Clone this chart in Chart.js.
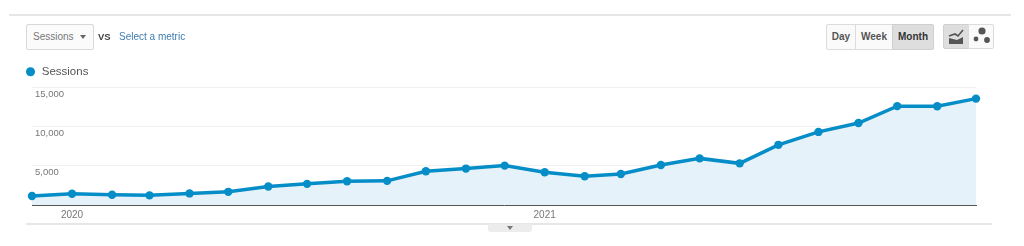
<!DOCTYPE html>
<html>
<head>
<meta charset="utf-8">
<style>
  html, body { margin: 0; padding: 0; background: #fff; width: 1024px; height: 246px; overflow: hidden; }
  body { position: relative; font-family: "Liberation Sans", Arial, sans-serif; }
  canvas { position: absolute; left: 0; top: 0; }
  .abs { position: absolute; box-sizing: border-box; }
  .rule { background: #e6e6e6; height: 2px; }
  .btn { border: 1px solid #dcdcdc; background: #fafafa; color: #555; font-size: 10px; font-weight: bold; text-align: center; line-height: 24px; height: 26px; top: 24px; }
  .on { background: #dedede; color: #333; border-color: #cfcfcf; }
</style>
</head>
<body>
<canvas id="grafico" width="1024" height="246"></canvas>

<div class="abs rule" style="left:9px;top:14px;width:1002px"></div>
<div class="abs rule" style="left:26px;top:223px;width:966px"></div>
<div class="abs" style="left:488px;top:224px;width:44px;height:8px;background:#ececec;border-radius:0 0 3px 3px"></div>
<div class="abs" style="left:507px;top:226px;width:0;height:0;border:3.5px solid transparent;border-top:4px solid #777"></div>

<div class="abs" style="left:26px;top:24px;width:68px;height:26px;border:1px solid #d8d8d8;border-radius:2px;background:#fbfbfb;color:#777;font-size:10px;line-height:24px;padding-left:6px">Sessions</div>
<div class="abs" style="left:80px;top:35px;width:0;height:0;border:3.5px solid transparent;border-top:4px solid #666"></div>
<div class="abs" style="left:98px;top:31px;font-size:9.5px;font-weight:bold;color:#444">VS</div>
<div class="abs" style="left:119px;top:31px;font-size:10px;color:#3f7cb0">Select a metric</div>

<div class="abs btn" style="left:826px;width:30px;border-radius:2px 0 0 2px">Day</div>
<div class="abs btn" style="left:855px;width:38px">Week</div>
<div class="abs btn on" style="left:892px;width:42px;border-radius:0 2px 2px 0">Month</div>
<div class="abs btn on" style="left:943px;width:26px;height:25px;border-radius:2px 0 0 2px"></div>
<div class="abs btn" style="left:968px;width:26px;height:25px;border-radius:0 2px 2px 0"></div>
<svg class="abs" style="left:943px;top:24px" width="52" height="25">
  <path d="M6 20 L20 20 L20 13 L14 16 L6 14 Z" fill="#555"/>
  <path d="M6 12 L12 10 L15 12 L20 6" stroke="#555" stroke-width="1.6" fill="none"/>
  <circle cx="39" cy="7" r="3.6" fill="#555"/>
  <circle cx="33" cy="15" r="2.4" fill="#555"/>
  <circle cx="44" cy="16" r="2.9" fill="#555"/>
</svg>

<script src="https://cdn.jsdelivr.net/npm/chart.js@4"></script>
<script>
const meses = ['2019-12-01','2020-01-01','2020-02-01','2020-03-01','2020-04-01','2020-05-01','2020-06-01','2020-07-01','2020-08-01','2020-09-01','2020-10-01','2020-11-01','2020-12-01','2021-01-01','2021-02-01','2021-03-01','2021-04-01','2021-05-01','2021-06-01','2021-07-01','2021-08-01','2021-09-01','2021-10-01','2021-11-01','2021-12-01'];
const sesiones = [1140,1430,1300,1230,1480,1680,2370,2700,3040,3080,4300,4650,5030,4180,3670,3960,5100,5950,5320,7680,9330,10470,12620,12600,13580];
const anios = ['2020-01-01','2021-01-01'];
const etiquetasAnio = ['2020','2021'];
const ticksY = [0,5000,10000,15000];

const aMs = d => Date.parse(d);

new Chart(document.getElementById('grafico').getContext('2d'), {
  type: 'line',
  data: {
    datasets: [{
      label: 'Sessions',
      data: meses.map((m, i) => ({ x: aMs(m), y: sesiones[i] })),
      borderColor: '#058dc7',
      backgroundColor: '#e6f2fa',
      pointBackgroundColor: '#058dc7',
      pointBorderColor: '#058dc7',
      borderWidth: 3.5,
      pointRadius: 4.2,
      pointBorderWidth: 0,
      fill: 'origin',
      tension: 0,
      clip: false
    }]
  },
  options: {
    responsive: false,
    animation: false,
    layout: { padding: { left: 25, right: 48, top: 66, bottom: 21 } },
    plugins: {
      tooltip: { enabled: false },
      legend: {
        position: 'top',
        align: 'start',
        onClick: null,
        labels: {
          usePointStyle: true,
          pointStyle: 'circle',
          boxWidth: 11,
          boxHeight: 6.4, // el radio del punto sale de boxHeight
          padding: 0,
          color: '#555',
          font: { family: 'Liberation Sans', size: 11.5 },
          generateLabels: chart => [{
            text: 'Sessions',
            fillStyle: '#058dc7',
            strokeStyle: '#058dc7',
            lineWidth: 0,
            pointStyle: 'circle',
            fontColor: '#555',
            datasetIndex: 0
          }]
        }
      }
    },
    scales: {
      x: {
        type: 'linear',
        min: aMs(meses[0]),
        max: aMs(meses[meses.length - 1]),
        afterBuildTicks: s => { s.ticks = anios.map(a => ({ value: aMs(a) })); },
        afterFit: s => { s.height = 20; },
        grid: { display: false, drawTicks: false },
        border: { display: true, color: '#555', width: 1 },
        ticks: {
          autoSkip: false,
          maxRotation: 0,
          color: '#777',
          padding: 4,
          font: { family: 'Liberation Sans', size: 10 },
          callback: v => etiquetasAnio[anios.findIndex(a => aMs(a) === v)]
        }
      },
      y: {
        min: 0,
        max: 15000,
        afterBuildTicks: s => { s.ticks = ticksY.map(v => ({ value: v })); },
        afterFit: s => { s.width = 7; },
        border: { display: false },
        grid: {
          drawTicks: false,
          color: c => c.tick.value === 0 ? 'rgba(0,0,0,0)' : '#f1f1f1'
        },
        ticks: {
          mirror: true,
          padding: 3,
          labelOffset: 7,
          color: '#777',
          font: { family: 'Liberation Sans', size: 9.5 },
          callback: v => v === 0 ? '' : v.toLocaleString('en-US')
        }
      }
    }
  }
});
</script>
</body>
</html>
